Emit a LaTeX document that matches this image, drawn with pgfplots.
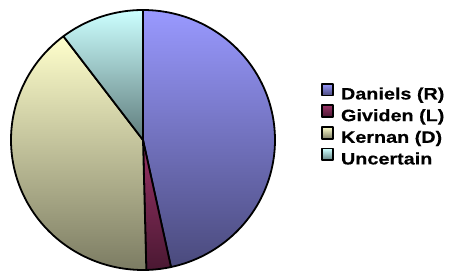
\documentclass[border=0pt]{standalone}
\usepackage{fontspec}
\setmainfont{Liberation Sans}
\newfontfamily\legfont{Liberation Sans}[FakeStretch=1.2, BoldFeatures={FakeBold=0.4}]
\usepackage{pgfplots}
\usepackage{pgfplotstable}
\pgfplotsset{compat=1.18}

\pgfplotstableread{
name value
Daniels 46.6
Gividen 3.0
Kernan 40.1
Uncertain 10.3
}\piedata

\definecolor{danT}{HTML}{9999FF}\definecolor{danB}{HTML}{4A4A7C}
\definecolor{givT}{HTML}{993366}\definecolor{givB}{HTML}{4A1832}
\definecolor{kerT}{HTML}{FFFFCC}\definecolor{kerB}{HTML}{7C7C63}
\definecolor{uncT}{HTML}{CCFFFF}\definecolor{uncB}{HTML}{5F7C7C}

\newcommand{\swatch}[2]{%
  \pgfpathrectangle{\pgfpoint{0bp}{-3.5bp}}{\pgfpoint{20bp}{15.5bp}}\pgfusepath{use as bounding box}%
  \draw[draw=black, line width=1.8bp, top color=#1, bottom color=#2] (0.9bp,-0.2bp) rectangle (11.6bp,11.6bp);}

\begin{document}
\begin{tikzpicture}
\pgfplotstablegetelem{0}{value}\of\piedata \let\va\pgfplotsretval
\pgfplotstablegetelem{1}{value}\of\piedata \let\vb\pgfplotsretval
\pgfplotstablegetelem{2}{value}\of\piedata \let\vc\pgfplotsretval
\pgfplotstablegetelem{3}{value}\of\piedata \let\vd\pgfplotsretval
\pgfmathsetmacro{\aA}{0}
\pgfmathsetmacro{\aB}{\va*3.6}
\pgfmathsetmacro{\aC}{(\va+\vb)*3.6}
\pgfmathsetmacro{\aD}{(\va+\vb+\vc)*3.6}
\pgfmathsetmacro{\aE}{(\va+\vb+\vc+\vd)*3.6}
\begin{axis}[
  scale only axis, width=452bp, height=272bp,
  xmin=0, xmax=452, ymin=0, ymax=272,
  hide axis, clip=false,
  legend cell align=left,
  legend style={draw=none, fill=none, inner sep=0pt, outer sep=0pt,
    at={(axis description cs:0.7102,0.694)}, anchor=north west,
    row sep=1.9bp, column sep=0pt,
    font=\legfont\bfseries\fontsize{16.5bp}{18bp}\selectfont,
    nodes={inner sep=0pt, outer sep=0pt, text height=12bp, text depth=3.5bp}},
]
\addplot[draw=black, line width=1.8bp, line join=round, top color=danT, bottom color=danB,
  domain=\aA:\aB, samples=90, variable=\t,
  legend image code/.code={\swatch{danT}{danB}}]
  ({143+132*sin(\t)},{132+130*cos(\t)}) -- (axis cs:143,132) -- cycle;
\addlegendentry{Daniels (R)}
\addplot[draw=black, line width=1.8bp, line join=round, top color=givT, bottom color=givB,
  domain=\aB:\aC, samples=20, variable=\t,
  legend image code/.code={\swatch{givT}{givB}}]
  ({143+132*sin(\t)},{132+130*cos(\t)}) -- (axis cs:143,132) -- cycle;
\addlegendentry{Gividen (L)}
\addplot[draw=black, line width=1.8bp, line join=round, top color=kerT, bottom color=kerB,
  domain=\aC:\aD, samples=90, variable=\t,
  legend image code/.code={\swatch{kerT}{kerB}}]
  ({143+132*sin(\t)},{132+130*cos(\t)}) -- (axis cs:143,132) -- cycle;
\addlegendentry{Kernan (D)}
\addplot[draw=black, line width=1.8bp, line join=round, top color=uncT, bottom color=uncB,
  domain=\aD:\aE, samples=40, variable=\t,
  legend image code/.code={\swatch{uncT}{uncB}}]
  ({143+132*sin(\t)},{132+130*cos(\t)}) -- (axis cs:143,132) -- cycle;
\addlegendentry{Uncertain}
\end{axis}
\path (current axis.south west) rectangle (current axis.north east);
\end{tikzpicture}
\end{document}
